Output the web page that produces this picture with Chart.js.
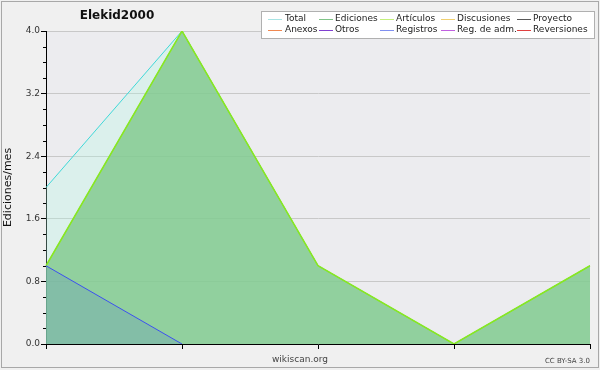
<!DOCTYPE html>
<html>
<head>
<meta charset="utf-8">
<script src="https://cdn.jsdelivr.net/npm/chart.js@4/dist/chart.umd.min.js"></script>
<style>
  html, body { margin: 0; padding: 0; background: #f0f0f0; }
  #wrap { width: 600px; height: 370px; }
</style>
</head>
<body>
<div id="wrap"><canvas id="chart" width="600" height="370"></canvas></div>
<script>
// data
const months = ["m1", "m2", "m3", "m4", "m5"];
const total = [2, 4, 1, 0, 1];
const ediciones = [1, 4, 1, 0, 1];
const articulos = [1, 4, 1, 0, 1];
const registros = [1, 0, null, null, null];
const yTicks = [0, 0.8, 1.6, 2.4, 3.2, 4.0];

// legend entries (two rows of five)
const legendNames = ["Total", "Ediciones", "Artículos", "Discusiones", "Proyecto",
  "Anexos", "Otros", "Registros", "Reg. de adm.", "Reversiones"];
const legendColors = ["#a8e4e4", "#80c488", "#c4f07c", "#f0d070", "#585858",
  "#f08850", "#8040d0", "#8090f0", "#c060e0", "#e04040"];

const FONT = "'DejaVu Sans', sans-serif";

// background, frame, title, legend, footer and minor ticks
const decor = {
  id: "decor",
  beforeDraw(chart) {
    const ctx = chart.ctx;
    const a = chart.chartArea;
    ctx.save();
    ctx.fillStyle = "#f0f0f0";
    ctx.fillRect(0, 0, chart.width, chart.height);
    ctx.strokeStyle = "#a8a8a8";
    ctx.lineWidth = 1;
    ctx.strokeRect(1.5, 1.5, 597, 366);
    ctx.fillStyle = "#ececef";
    ctx.fillRect(a.left, a.top, a.right - a.left, a.bottom - a.top);
    ctx.restore();
  },
  afterDraw(chart) {
    const ctx = chart.ctx;
    const a = chart.chartArea;
    const y = chart.scales.y;
    ctx.save();
    // minor ticks every 0.2
    ctx.strokeStyle = "#000";
    ctx.lineWidth = 1;
    for (let v = 0.2; v < 4; v += 0.2) {
      if (Math.abs(v / 0.8 - Math.round(v / 0.8)) < 0.01) continue;
      const py = Math.round(y.getPixelForValue(v)) + 0.5;
      ctx.beginPath();
      ctx.moveTo(a.left - 3, py);
      ctx.lineTo(a.left, py);
      ctx.stroke();
    }
    // title
    ctx.fillStyle = "#111";
    ctx.font = "bold 12px " + FONT;
    ctx.textAlign = "center";
    ctx.textBaseline = "middle";
    ctx.fillText("Elekid2000", 117, 16);
    // legend box
    ctx.fillStyle = "#ffffff";
    ctx.fillRect(261, 11, 333, 27);
    ctx.strokeStyle = "#b0b0b0";
    ctx.strokeRect(261.5, 11.5, 333, 27);
    const colX = [268, 319, 380, 441, 517];
    const textX = [285, 335, 396, 457, 533];
    const rowY = [19, 30];
    ctx.font = "9px " + FONT;
    ctx.textAlign = "left";
    legendNames.forEach((name, i) => {
      const c = i % 5, r = Math.floor(i / 5);
      ctx.strokeStyle = legendColors[i];
      ctx.beginPath();
      ctx.moveTo(colX[c], rowY[r] + 0.5);
      ctx.lineTo(colX[c] + 14, rowY[r] + 0.5);
      ctx.stroke();
      ctx.fillStyle = "#222";
      ctx.fillText(name, textX[c], rowY[r]);
    });
    // footer
    ctx.fillStyle = "#444";
    ctx.font = "9px " + FONT;
    ctx.textAlign = "center";
    ctx.fillText("wikiscan.org", 300, 360);
    ctx.font = "7px " + FONT;
    ctx.textAlign = "right";
    ctx.fillText("CC BY-SA 3.0", 590, 361);
    ctx.restore();
  }
};

new Chart(document.getElementById("chart"), {
  type: "line",
  data: {
    labels: months,
    datasets: [
      {
        label: "Registros",
        data: registros,
        borderColor: "#3c50f0",
        borderWidth: 1,
        backgroundColor: "rgba(60, 100, 220, 0.16)",
        fill: "origin",
        pointRadius: 0,
        order: 0,
      },
      {
        label: "Artículos",
        data: articulos,
        borderColor: "#88e820",
        borderWidth: 1.5,
        fill: false,
        pointRadius: 0,
        order: 1,
      },
      {
        label: "Ediciones",
        data: ediciones,
        borderColor: "#80c488",
        borderWidth: 1,
        backgroundColor: "rgba(128, 200, 140, 0.82)",
        fill: "origin",
        pointRadius: 0,
        order: 2,
      },
      {
        label: "Total",
        data: total,
        borderColor: "#40d8d8",
        borderWidth: 1,
        backgroundColor: "rgba(180, 250, 230, 0.3)",
        fill: "origin",
        pointRadius: 0,
        order: 3,
      },
    ],
  },
  options: {
    responsive: false,
    animation: false,
    layout: { padding: { top: 31, right: 10, bottom: 0, left: 0 } },
    plugins: {
      legend: { display: false },
      tooltip: { enabled: false },
      title: { display: false },
    },
    scales: {
      x: {
        afterFit(scale) { scale.height = 26; },
        grid: { drawOnChartArea: false, tickLength: 5, tickColor: "#000" },
        border: { color: "#000", width: 1 },
        ticks: { display: false },
      },
      y: {
        min: 0,
        max: 4,
        afterFit(scale) { scale.width = 46; },
        afterBuildTicks(scale) { scale.ticks = yTicks.map(v => ({ value: v })); },
        grid: { color: "#c8c8c8", tickLength: 5, tickColor: "#000" },
        border: { color: "#000", width: 1 },
        ticks: {
          padding: 1,
          color: "#333",
          font: { family: FONT, size: 9 },
          callback: v => Number(v).toFixed(1),
        },
        title: {
          display: true,
          text: "Ediciones/mes",
          color: "#111",
          font: { family: FONT, size: 11 },
          padding: { top: 2, bottom: 0 },
        },
      },
    },
  },
  plugins: [decor],
});
</script>
</body>
</html>
